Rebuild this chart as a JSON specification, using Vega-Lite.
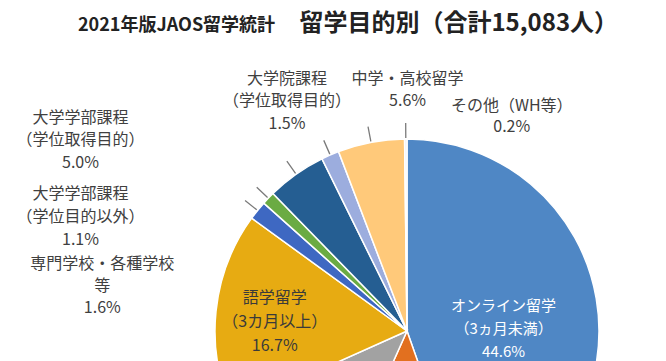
{
  "$schema": "https://vega.github.io/schema/vega-lite/v6.json",
  "autosize": {"type": "none"},
  "width": 814,
  "height": 562,
  "padding": {"left": 0, "top": 50, "right": -148, "bottom": -251},
  "background": "#ffffff",
  "title": {
    "text": "2021年版JAOS留学統計",
    "subtitle": "\u200b　　　　　　　　　 留学目的別（合計15,083人）",
    "anchor": "start",
    "frame": "group",
    "dx": 78,
    "offset": 9,
    "font": "Noto Sans CJK JP",
    "fontSize": 18,
    "fontWeight": "bold",
    "color": "#222222",
    "subtitleFont": "Noto Sans CJK JP",
    "subtitleFontSize": 24,
    "subtitleFontWeight": "bold",
    "subtitleColor": "#222222",
    "subtitlePadding": -23
  },
  "data": {
    "values": [
      {"cat": "オンライン留学(3ヵ月未満)", "label": "オンライン留学\n（3ヵ月未満）\n44.6%", "value": 44.6, "order": 1},
      {"cat": "語学留学(3カ月未満)", "label": "語学留学\n（3カ月未満）\n12.1%", "value": 12.1, "order": 2},
      {"cat": "インターンシップ・ボランティア等", "label": "インターンシップ・ボランティア等\n11.6%", "value": 11.6, "order": 3},
      {"cat": "語学留学(3カ月以上)", "label": "語学留学\n（3カ月以上）\n16.7%", "value": 16.7, "order": 4},
      {"cat": "専門学校・各種学校等", "label": "専門学校・各種学校\n等\n1.6%", "value": 1.6, "order": 5},
      {"cat": "大学学部課程(学位目的以外)", "label": "大学学部課程\n（学位目的以外）\n1.1%", "value": 1.1, "order": 6},
      {"cat": "大学学部課程(学位取得目的)", "label": "大学学部課程\n（学位取得目的）\n5.0%", "value": 5.0, "order": 7},
      {"cat": "大学院課程(学位取得目的)", "label": "大学院課程\n（学位取得目的）\n1.5%", "value": 1.5, "order": 8},
      {"cat": "中学・高校留学", "label": "中学・高校留学\n5.6%", "value": 5.6, "order": 9},
      {"cat": "その他(WH等)", "label": "その他（WH等）\n0.2%", "value": 0.2, "order": 10}
    ]
  },
  "encoding": {
    "theta": {"field": "value", "type": "quantitative", "stack": true},
    "order": {"field": "order", "type": "quantitative"},
    "detail": {"field": "cat", "type": "nominal"}
  },
  "layer": [
    {
      "mark": {"type": "arc", "radius": 192, "stroke": "#ffffff", "strokeWidth": 1.5},
      "encoding": {
        "color": {
          "field": "cat",
          "type": "nominal",
          "legend": null,
          "scale": {
            "domain": ["オンライン留学(3ヵ月未満)", "語学留学(3カ月未満)", "インターンシップ・ボランティア等", "語学留学(3カ月以上)", "専門学校・各種学校等", "大学学部課程(学位目的以外)", "大学学部課程(学位取得目的)", "大学院課程(学位取得目的)", "中学・高校留学", "その他(WH等)"],
            "range": ["#4f87c5", "#e2701f", "#a2a2a2", "#e7ab12", "#3e68c2", "#6bab43", "#255e92", "#9cadde", "#ffc97a", "#eef1f6"]
          }
        }
      }
    },
    {
      "mark": {"type": "arc", "radius": 208, "radius2": 193, "padAngle": 3, "fill": null, "stroke": "#7a7a7a", "strokeWidth": 1.3},
      "encoding": {
        "strokeOpacity": {"condition": {"test": "datum.order >= 5", "value": 1}, "value": 0}
      }
    },
    {
      "mark": {"type": "text", "radius": 98, "dy": -8, "font": "Noto Sans CJK JP", "fontSize": 15, "lineHeight": 23, "lineBreak": "\n", "align": "center", "baseline": "middle", "fill": "#ffffff"},
      "encoding": {
        "text": {"condition": {"test": "datum.order === 1", "field": "label"}, "value": ""}
      }
    },
    {
      "mark": {"type": "text", "radius": 133, "dy": -19, "font": "Noto Sans CJK JP", "fontSize": 16, "lineHeight": 24, "lineBreak": "\n", "align": "center", "baseline": "middle", "fill": "#3a3a3a"},
      "encoding": {
        "text": {"condition": {"test": "datum.order === 4", "field": "label"}, "value": ""}
      }
    },
    {
      "mark": {"type": "text", "radius": 200, "dx": -149, "dy": 59, "font": "Noto Sans CJK JP", "fontSize": 16, "lineHeight": 22, "lineBreak": "\n", "align": "center", "baseline": "middle", "fill": "#404040"},
      "encoding": {
        "text": {"condition": {"test": "datum.order === 5", "field": "label"}, "value": ""}
      }
    },
    {
      "mark": {"type": "text", "radius": 200, "dx": -182, "dy": 1, "font": "Noto Sans CJK JP", "fontSize": 16, "lineHeight": 23, "lineBreak": "\n", "align": "center", "baseline": "middle", "fill": "#404040"},
      "encoding": {
        "text": {"condition": {"test": "datum.order === 6", "field": "label"}, "value": ""}
      }
    },
    {
      "mark": {"type": "text", "radius": 200, "dx": -211, "dy": -50, "font": "Noto Sans CJK JP", "fontSize": 16, "lineHeight": 22.5, "lineBreak": "\n", "align": "center", "baseline": "middle", "fill": "#404040"},
      "encoding": {
        "text": {"condition": {"test": "datum.order === 7", "field": "label"}, "value": ""}
      }
    },
    {
      "mark": {"type": "text", "radius": 200, "dx": -40, "dy": -69, "font": "Noto Sans CJK JP", "fontSize": 16, "lineHeight": 22.5, "lineBreak": "\n", "align": "center", "baseline": "middle", "fill": "#404040"},
      "encoding": {
        "text": {"condition": {"test": "datum.order === 8", "field": "label"}, "value": ""}
      }
    },
    {
      "mark": {"type": "text", "radius": 200, "dx": 38, "dy": -56, "font": "Noto Sans CJK JP", "fontSize": 16, "lineHeight": 22, "lineBreak": "\n", "align": "center", "baseline": "middle", "fill": "#404040"},
      "encoding": {
        "text": {"condition": {"test": "datum.order === 9", "field": "label"}, "value": ""}
      }
    },
    {
      "mark": {"type": "text", "radius": 200, "dx": 106, "dy": -25, "font": "Noto Sans CJK JP", "fontSize": 16, "lineHeight": 21, "lineBreak": "\n", "align": "center", "baseline": "middle", "fill": "#404040"},
      "encoding": {
        "text": {"condition": {"test": "datum.order === 10", "field": "label"}, "value": ""}
      }
    }
  ],
  "config": {"view": {"stroke": null}}
}
